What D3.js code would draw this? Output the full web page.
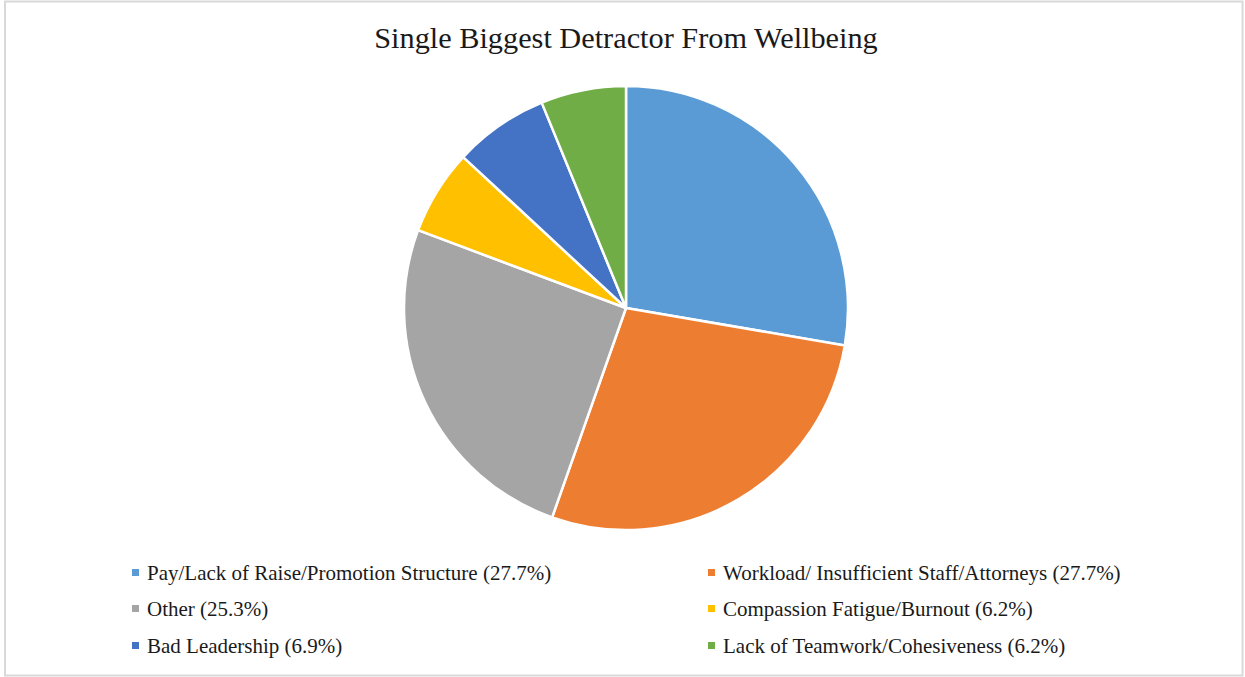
<!DOCTYPE html>
<html>
<head>
<meta charset="utf-8">
<script src="https://cdn.jsdelivr.net/npm/d3@7"></script>
<style>
  html, body { margin: 0; padding: 0; background: #fff; }
  svg { display: block; }
  text { font-family: "Liberation Serif", "Times New Roman", serif; fill: #1a1a1a; }
</style>
</head>
<body>
<svg id="chart" width="1245" height="677"></svg>
<script>
// Survey responses: single biggest detractor from wellbeing (percent of respondents)
const categories = [
  "Pay/Lack of Raise/Promotion Structure",
  "Workload/ Insufficient Staff/Attorneys",
  "Other",
  "Compassion Fatigue/Burnout",
  "Bad Leadership",
  "Lack of Teamwork/Cohesiveness"
];
const shares = [27.7, 27.7, 25.3, 6.2, 6.9, 6.2];
const colors = ["#5B9BD5", "#ED7D31", "#A5A5A5", "#FFC000", "#4472C4", "#70AD47"];
const title = "Single Biggest Detractor From Wellbeing";

const svg = d3.select("#chart");

// outer frame
svg.append("rect")
  .attr("x", 5).attr("y", 1.5)
  .attr("width", 1237.5).attr("height", 674)
  .attr("fill", "#fff")
  .attr("stroke", "#d9d9d9").attr("stroke-width", 2);

// title
svg.append("text")
  .attr("x", 626).attr("y", 48)
  .attr("text-anchor", "middle")
  .style("font-size", "30.3px")
  .text(title);

// pie
const data = categories.map((c, i) => ({ name: c, value: shares[i], color: colors[i] }));
const pie = d3.pie().value(d => d.value).sort(null);
const arc = d3.arc().innerRadius(0).outerRadius(222);

const g = svg.append("g").attr("transform", "translate(626,308)");
g.selectAll("path")
  .data(pie(data))
  .join("path")
  .attr("d", arc)
  .attr("fill", d => d.data.color)
  .attr("stroke", "#fff")
  .attr("stroke-width", 2.5)
  .attr("stroke-linejoin", "round");

// legend: two columns, three rows
const colX = [132, 708];
const rowY = [573, 609, 646];
const legend = svg.append("g");
data.forEach((d, i) => {
  const cx = colX[i % 2];
  const cy = rowY[Math.floor(i / 2)];
  const item = legend.append("g");
  item.append("rect")
    .attr("x", cx).attr("y", cy - 4)
    .attr("width", 7).attr("height", 7)
    .attr("fill", d.color);
  item.append("text")
    .attr("x", cx + 15).attr("y", cy)
    .attr("dy", "0.35em")
    .style("font-size", "21px")
    .text(`${d.name} (${d3.format(".1f")(d.value)}%)`);
});
</script>
</body>
</html>
